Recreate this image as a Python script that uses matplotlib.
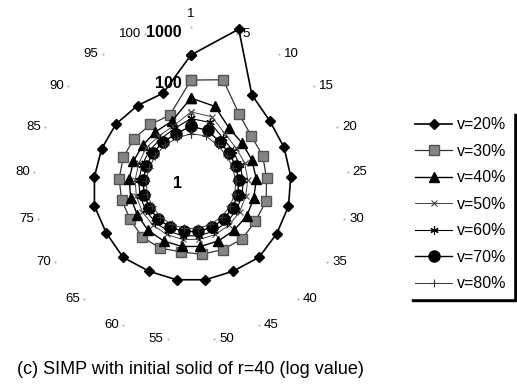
import numpy as np
import matplotlib.pyplot as plt
from matplotlib.ticker import NullLocator

plt.rcParams['font.family'] = ['Liberation Sans', 'DejaVu Sans']

# categories round the radar (1, 5, 10, ... 100)
categories = ['1', '5', '10', '15', '20', '25', '30', '35', '40', '45', '50',
              '55', '60', '65', '70', '75', '80', '85', '90', '95', '100']
labels = ['v=20%', 'v=30%', 'v=40%', 'v=50%', 'v=60%', 'v=70%', 'v=80%']

# values (log radial scale)
v20 = [366, 1655, 140, 101, 97, 97, 97, 93, 97, 84, 84, 84, 84, 97, 88, 93, 84, 81, 81, 77, 77]
v30 = [116, 147, 49, 34, 34, 32, 34, 30, 31, 28, 26, 23, 26, 27, 25, 26, 27, 28, 28, 27, 27]
v40 = [51, 41, 22, 20, 20, 20, 19, 19, 18, 18, 18, 18, 18, 18, 17, 17, 17, 17, 17, 18, 20]
v50 = [27, 25, 16, 14, 14, 13.5, 13, 13, 13, 13, 13, 13, 13, 13, 13, 13, 13, 13, 14, 14, 16]
v60 = [20, 19, 13, 11.5, 11, 11, 11, 11, 11, 11, 11, 11, 11, 11, 11, 11, 11, 11, 11.5, 12, 14]
v70 = [14, 13, 10.3, 9.5, 9, 9, 9, 9, 9, 9, 9, 9, 9, 9, 9, 9, 9, 9, 9.5, 10, 11]
v80 = [10, 10, 8.6, 8, 7.8, 7.8, 7.8, 7.8, 7.8, 7.8, 7.8, 7.8, 7.8, 7.8, 7.8, 7.8, 7.8, 7.8, 8, 8.5, 9]

series = [v20, v30, v40, v50, v60, v70, v80]
styles = [
    dict(color='black', lw=1.2, marker='D', ms=5.5, mfc='black', mec='black'),
    dict(color='#333333', lw=0.9, marker='s', ms=7.5, mfc='#858585', mec='#555555'),
    dict(color='black', lw=1.0, marker='^', ms=7, mfc='black', mec='black'),
    dict(color='#444444', lw=0.7, marker='x', ms=5, mew=0.8),
    dict(color='black', lw=0.8, marker=(6, 2, 0), ms=6, mew=0.8),
    dict(color='black', lw=1.0, marker='o', ms=8, mfc='black', mec='black'),
    dict(color='#333333', lw=0.7, marker='+', ms=6, mew=0.8),
]

fig = plt.figure(figsize=(5.17, 3.87), dpi=100)
ax = fig.add_axes([0.0774, 0.1344, 0.5841, 0.7804], projection='polar')
ax.set_theta_zero_location('N')
ax.set_theta_direction(-1)
ax.set_rscale('log')
ax.set_rlim(1, 1000)

n = len(categories)
theta = 2 * np.pi * np.arange(n) / n
th_closed = np.append(theta, theta[0])

handles = []
for vals, st, lab in zip(series, styles, labels):
    line, = ax.plot(th_closed, np.append(vals, vals[0]), label=lab, clip_on=False, **st)
    handles.append(line)

ax.grid(False)
ax.spines['polar'].set_visible(False)
ax.patch.set_visible(False)
ax.set_xticks([])
ax.set_yticks([])
ax.yaxis.set_minor_locator(NullLocator())

# category labels sit beside a faint tick dot just outside the rim, like Excel does
px_per_dec = 151 / 3
r_anchor = 10 ** (157 / px_per_dec)
ax.plot(theta, np.full(n, r_anchor), ls='none', marker='.', ms=1.0,
        color='#aaaaaa', clip_on=False)
for t, c in zip(theta, categories):
    s = np.sin(t)
    if abs(s) < 0.05:
        ax.annotate(c, xy=(t, r_anchor), xytext=(0, 7), textcoords='offset pixels',
                    ha='center', va='bottom', fontsize=9.5, annotation_clip=False)
    elif s > 0:
        ax.annotate(c, xy=(t, r_anchor), xytext=(5, 0), textcoords='offset pixels',
                    ha='left', va='center', fontsize=9.5, annotation_clip=False)
    else:
        ax.annotate(c, xy=(t, r_anchor), xytext=(-4, 0), textcoords='offset pixels',
                    ha='right', va='center', fontsize=9.5, annotation_clip=False)

# radial axis labels
for v in [1, 100, 1000]:
    ax.annotate(str(v), xy=(0, v), xytext=(-9, 0), textcoords='offset pixels',
                ha='right', va='center', fontsize=11.5, fontweight='bold',
                annotation_clip=False)

fig.legend(handles, labels, loc='upper left', bbox_to_anchor=(409 / 517, 1 - 111 / 387),
           frameon=True, fancybox=False, edgecolor='white', framealpha=1,
           shadow={'ox': 2.2, 'oy': -2.2, 'facecolor': 'black', 'edgecolor': 'black', 'alpha': 1},
           fontsize=11.5, handlelength=2.3, handletextpad=0.3, labelspacing=0.72,
           borderpad=0.4, borderaxespad=0)

fig.text(17 / 517, 1 - 369 / 387, '(c) SIMP with initial solid of r=40 (log value)',
         fontsize=13, va='center', ha='left')

fig.savefig('out.png', dpi=100)
